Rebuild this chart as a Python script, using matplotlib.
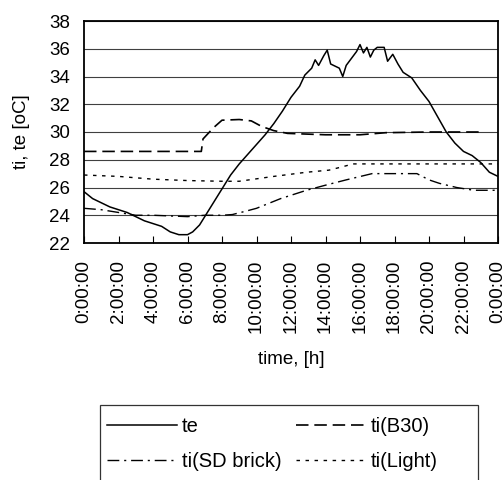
import matplotlib
matplotlib.use("Agg")
import matplotlib.pyplot as plt
from matplotlib.patches import Rectangle

plt.rcParams['font.family'] = ['Liberation Sans', 'DejaVu Sans']

# values (hour of day, temperature in oC)
te_hours = [0, 0.5, 1.0, 1.5, 2.0, 2.5, 3.0, 3.5, 4.0, 4.5, 5.0, 5.5, 6.0, 6.3, 6.7,
            7.0, 7.5, 8.0, 8.5, 9.0, 9.5, 10.0, 10.5, 11.0, 11.5, 12.0, 12.5, 12.8,
            13.2, 13.4, 13.6, 13.9, 14.1, 14.3, 14.8, 15.0, 15.2, 15.5, 15.8, 16.0,
            16.2, 16.4, 16.6, 16.8, 17.0, 17.4, 17.6, 17.9, 18.2, 18.5, 19.0, 19.5,
            20.0, 20.5, 21.0, 21.5, 22.0, 22.5, 23.0, 23.5, 24.0]
te_vals = [25.7, 25.2, 24.9, 24.6, 24.4, 24.2, 23.9, 23.6, 23.4, 23.2, 22.8, 22.6, 22.6,
           22.8, 23.3, 23.9, 24.9, 25.9, 26.9, 27.7, 28.4, 29.1, 29.8, 30.6, 31.5, 32.5,
           33.3, 34.1, 34.6, 35.2, 34.8, 35.5, 35.9, 34.9, 34.6, 34.0, 34.8, 35.3, 35.8,
           36.3, 35.7, 36.1, 35.4, 35.9, 36.1, 36.1, 35.1, 35.6, 34.9, 34.3, 33.9, 33.0,
           32.2, 31.1, 30.0, 29.2, 28.6, 28.3, 27.8, 27.1, 26.8]

b30_hours = [0, 6.8, 6.9, 7.5, 8.0, 9.0, 9.7, 10.3, 11.0, 11.8, 14.0, 16.0, 17.5, 20.0, 23.0]
b30_vals = [28.6, 28.6, 29.5, 30.3, 30.85, 30.9, 30.8, 30.4, 30.1, 29.9, 29.8, 29.8, 29.95, 30.0, 30.0]

sd_hours = [0, 1, 2, 3, 4, 5, 6, 7, 8, 8.6, 9.4, 10, 11.4, 12.9, 14.1, 15.2, 16.7,
            18.1, 19.3, 20, 20.6, 21.6, 22.6, 24]
sd_vals = [24.5, 24.4, 24.2, 24.0, 24.0, 23.95, 23.9, 24.0, 24.0, 24.05, 24.3, 24.5,
           25.2, 25.8, 26.2, 26.55, 27.0, 27.0, 27.0, 26.55, 26.3, 26.0, 25.8, 25.8]

light_hours = [0, 2, 4, 6, 8, 9, 11, 12.9, 14.2, 15, 15.6, 18, 24]
light_vals = [26.9, 26.8, 26.6, 26.5, 26.45, 26.45, 26.8, 27.1, 27.25, 27.5, 27.7, 27.7, 27.7]

tick_hours = list(range(0, 25, 2))
tick_labels = ['%d:00:00' % (h % 24) for h in tick_hours]

fig = plt.figure(figsize=(5.03, 4.8), dpi=100)
ax = fig.add_axes([84 / 503, 1 - 243 / 480, 414 / 503, 222 / 480])

lw = 1.0
l_te, = ax.plot(te_hours, te_vals, color='black', lw=1.1, label='te')
l_b30, = ax.plot(b30_hours, b30_vals, color='black', lw=1.2,
                 linestyle=(0, (7.5, 3.5)), label='ti(B30)')
l_sd, = ax.plot(sd_hours, sd_vals, color='black', lw=lw,
                linestyle=(0, (8.5, 3.5, 1.5, 3.5)), label='ti(SD brick)')
l_light, = ax.plot(light_hours, light_vals, color='black', lw=lw,
                   linestyle=(0, (2.5, 4)), label='ti(Light)')

ax.set_xlim(0, 24)
ax.set_ylim(22, 38)
ax.set_yticks(range(22, 39, 2))
ax.set_xticks(tick_hours)
ax.set_xticklabels(tick_labels, rotation=90, fontsize=13.5)
ax.tick_params(axis='x', direction='in', length=5, pad=12)
ax.tick_params(axis='y', length=0, pad=10, labelsize=13.5)
ax.yaxis.grid(True, color='#404040', lw=0.8)
ax.set_axisbelow(True)
for s in ax.spines.values():
    s.set_linewidth(1.3)
    s.set_color('black')

ax.set_ylabel('ti, te [oC]', fontsize=13.5, labelpad=14)
ax.set_xlabel('time, [h]', fontsize=13.5, labelpad=13)

# legend: row 1 te, ti(B30); row 2 ti(SD brick), ti(Light)
leg = fig.legend([l_te, l_sd, l_b30, l_light],
                 ['te', 'ti(SD brick)', 'ti(B30)', 'ti(Light)'],
                 loc='upper left', bbox_to_anchor=(107 / 503, 1 - 417 / 480), ncol=2,
                 fontsize=14.5, frameon=False,
                 handlelength=3.5, handletextpad=0.2, columnspacing=0.75,
                 borderpad=0, borderaxespad=0, labelspacing=0.8)
fig.patches.append(Rectangle((100 / 503, -0.02), 378 / 503, 0.02 + 75 / 480,
                             transform=fig.transFigure, fill=False,
                             edgecolor='#333333', lw=0.9))

fig.savefig('out.png', dpi=100)
